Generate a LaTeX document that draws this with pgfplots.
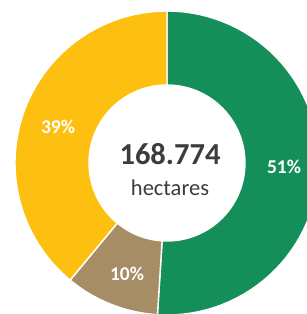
\documentclass[border=0pt]{standalone}
\usepackage{pgfplots}
\pgfplotsset{compat=1.18}
\usepackage{fontspec}
\setmainfont{Carlito}
\definecolor{cgreen}{HTML}{148F59}
\definecolor{cyellow}{HTML}{FDC010}
\definecolor{cbrown}{HTML}{A78D66}
\definecolor{ctext}{HTML}{403B3B}
% slice: #1 cumulative share before (%), #2 share (%), #3 colour
\newcommand{\donutslice}[3]{%
\addplot[fill=#3, draw=white, line width=1.4pt, domain=0:3, samples=181, variable=\t]
 ({167 + (t<1 ? 152 : (t<2 ? 152-74*(t-1) : 78))*cos(90-3.6*#1-3.6*#2*(t<1 ? t : (t<2 ? 1 : 3-t)))},
  {151 + (t<1 ? 152 : (t<2 ? 152-74*(t-1) : 78))*sin(90-3.6*#1-3.6*#2*(t<1 ? t : (t<2 ? 1 : 3-t)))}) -- cycle;
}
\begin{document}
\begin{tikzpicture}
\begin{axis}[
  at={(0,0)}, anchor=south west,
  scale only axis, width=307pt, height=314pt,
  xmin=0, xmax=307, ymin=0, ymax=314,
  hide axis, clip=true,
]
\donutslice{0}{51}{cgreen}
\donutslice{51}{10}{cbrown}
\donutslice{61}{39}{cyellow}
\addplot[draw=none, mark=none, nodes near coords, point meta=explicit symbolic,
  nodes near coords style={anchor=center, font=\bfseries\fontsize{19.5}{22}\selectfont, text=white}]
  coordinates {(284,147) [51\%] (127,40) [10\%] (58,187) [39\%]};
\node[text=ctext, font=\bfseries\fontsize{30.5}{36}\selectfont] at (axis cs:170,160) {168.774};
\node[text=ctext, font=\fontsize{22.5}{26}\selectfont] at (axis cs:170,126) {hectares};
\end{axis}
\pgfresetboundingbox
\path[use as bounding box] (0,0) rectangle (307pt,314pt);
\end{tikzpicture}
\end{document}
